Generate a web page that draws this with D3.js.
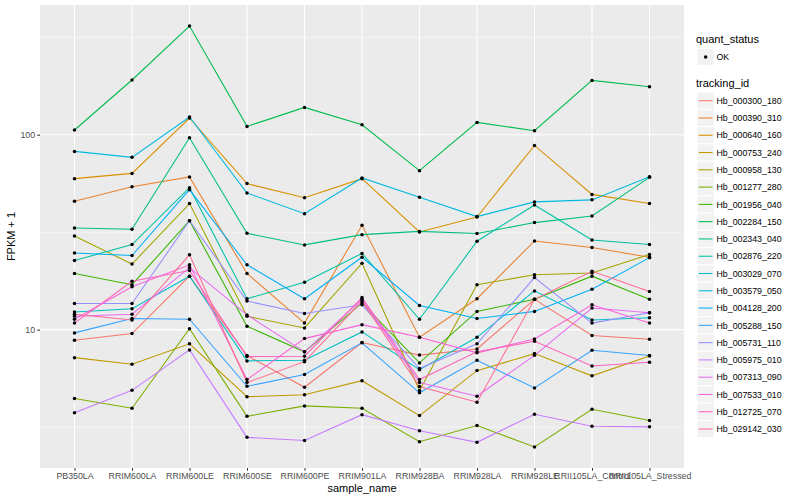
<!DOCTYPE html>
<html><head><meta charset="utf-8">
<script src="https://cdn.jsdelivr.net/npm/d3@7"></script>
<style>
body{margin:0;background:#fff}
text{font-family:"Liberation Sans",Arial,Helvetica,sans-serif}
</style>
</head><body>
<svg id="chart" width="800" height="500"></svg>
<script>
// ---- data ----
const samples = ["PB350LA","RRIM600LA","RRIM600LE","RRIM600SE","RRIM600PE","RRIM901LA","RRIM928BA","RRIM928LA","RRIM928LE","RRII105LA_Control","RRII105LA_Stressed"];
const trackingIds = ["Hb_000300_180","Hb_000390_310","Hb_000640_160","Hb_000753_240","Hb_000958_130","Hb_001277_280","Hb_001956_040","Hb_002284_150","Hb_002343_040","Hb_002876_220","Hb_003029_070","Hb_003579_050","Hb_004128_200","Hb_005288_150","Hb_005731_110","Hb_005975_010","Hb_007313_090","Hb_007533_010","Hb_012725_070","Hb_029142_030"];
const quantStatus = ["OK"];
const yMajorTicks = [10, 100];
const yMinorTicks = [3.162, 31.62, 316.2];

// FPKM + 1 per sample, one array per tracking_id
const Hb_000300_180 = [8.81, 9.54, 18.8, 7.36, 5.06, 8.58, 7.40, 7.96, 14.3, 9.32, 8.92];
const Hb_000390_310 = [45.5, 54.1, 60.7, 19.4, 10.8, 34.3, 9.13, 14.4, 28.5, 26.4, 23.5];
const Hb_000640_160 = [59.5, 63.3, 121.8, 56.1, 47.5, 59.5, 31.7, 37.8, 88.1, 49.4, 44.4];
const Hb_000753_240 = [7.18, 6.64, 8.45, 4.53, 4.63, 5.47, 3.62, 6.16, 7.53, 5.79, 7.33];
const Hb_000958_130 = [30.2, 21.7, 44.3, 11.7, 10.2, 21.9, 4.87, 17.0, 19.1, 19.5, 24.3];
const Hb_001277_280 = [4.43, 3.95, 10.1, 3.59, 4.06, 3.95, 2.66, 3.22, 2.50, 3.90, 3.42];
const Hb_001956_040 = [19.4, 17.0, 36.2, 10.4, 7.69, 13.7, 6.75, 12.4, 14.3, 18.8, 14.3];
const Hb_002284_150 = [105.7, 190.8, 360.9, 110.3, 138.0, 112.5, 65.4, 115.6, 104.8, 189.9, 176.3];
const Hb_002343_040 = [33.2, 32.7, 96.5, 31.2, 27.2, 30.7, 31.9, 31.1, 35.4, 38.3, 60.4];
const Hb_002876_220 = [22.6, 27.3, 53.5, 14.4, 17.5, 24.6, 11.3, 28.4, 43.6, 28.8, 27.3];
const Hb_003029_070 = [12.3, 12.8, 18.8, 6.91, 6.96, 9.73, 6.23, 9.13, 15.8, 11.2, 11.5];
const Hb_003579_050 = [82.1, 76.5, 123.3, 50.2, 39.3, 60.0, 47.7, 38.0, 45.2, 46.3, 60.9];
const Hb_004128_200 = [24.7, 24.0, 52.2, 21.5, 14.4, 23.5, 13.3, 11.4, 12.4, 16.1, 23.4];
const Hb_005288_150 = [9.62, 11.4, 11.3, 5.12, 5.88, 8.55, 4.74, 6.96, 5.02, 7.83, 7.36];
const Hb_005731_110 = [13.6, 13.6, 36.2, 14.0, 12.1, 13.4, 6.31, 8.45, 18.5, 10.8, 12.2];
const Hb_005975_010 = [3.74, 4.88, 7.87, 2.80, 2.70, 3.66, 3.03, 2.64, 3.68, 3.19, 3.17];
const Hb_007313_090 = [11.7, 12.0, 20.8, 11.9, 7.69, 14.3, 5.35, 4.55, 7.38, 12.9, 12.2];
const Hb_007533_010 = [11.3, 16.6, 21.5, 5.54, 8.99, 10.6, 9.13, 7.60, 8.96, 13.4, 10.8];
const Hb_012725_070 = [10.8, 17.7, 20.1, 7.27, 7.30, 14.6, 5.54, 7.69, 8.71, 6.51, 6.80];
const Hb_029142_030 = [12.0, 11.2, 24.2, 5.35, 6.85, 14.0, 5.10, 4.24, 14.3, 19.9, 15.7];

const seriesValues = [Hb_000300_180,Hb_000390_310,Hb_000640_160,Hb_000753_240,Hb_000958_130,Hb_001277_280,Hb_001956_040,Hb_002284_150,Hb_002343_040,Hb_002876_220,Hb_003029_070,Hb_003579_050,Hb_004128_200,Hb_005288_150,Hb_005731_110,Hb_005975_010,Hb_007313_090,Hb_007533_010,Hb_012725_070,Hb_029142_030];
const colors = ["#F8766D","#EA8331","#D89000","#C09B00","#A3A500","#7CAE00","#39B600","#00BB4E","#00BF7D","#00C1A3","#00BFC4","#00BAE0","#00B0F6","#35A2FF","#9590FF","#C77CFF","#E76BF3","#FA62DB","#FF62BC","#FF6C91"];

const series = trackingIds.map((id,i)=>({id, color:colors[i], values:seriesValues[i].map((v,j)=>({sample:samples[j], v}))}));

// ---- layout ----
const svg = d3.select("#chart");
const P = {left:40, right:684, top:5, bottom:468};

const x = d3.scalePoint().domain(samples).range([P.left, P.right]).padding(0.6);
const all = seriesValues.flat();
const lo = Math.log10(d3.min(all)), hi = Math.log10(d3.max(all));
const ex = (hi-lo)*0.05;
const y = d3.scaleLog().domain([Math.pow(10,lo-ex), Math.pow(10,hi+ex)]).range([P.bottom, P.top]);

svg.append("rect").attr("width",800).attr("height",500).attr("fill","#fff");
svg.append("rect").attr("x",P.left).attr("y",P.top).attr("width",P.right-P.left).attr("height",P.bottom-P.top).attr("fill","#EBEBEB");

// grid
const g = svg.append("g");
g.selectAll(".ymin").data(yMinorTicks).join("line")
  .attr("x1",P.left).attr("x2",P.right).attr("y1",d=>y(d)).attr("y2",d=>y(d))
  .attr("stroke","#fff").attr("stroke-width",0.53);
g.selectAll(".ymaj").data(yMajorTicks).join("line")
  .attr("x1",P.left).attr("x2",P.right).attr("y1",d=>y(d)).attr("y2",d=>y(d))
  .attr("stroke","#fff").attr("stroke-width",1.07);
g.selectAll(".xmaj").data(samples).join("line")
  .attr("y1",P.top).attr("y2",P.bottom).attr("x1",d=>x(d)).attr("x2",d=>x(d))
  .attr("stroke","#fff").attr("stroke-width",1.07);

// lines
const line = d3.line().x(d=>x(d.sample)).y(d=>y(d.v));
svg.append("g").selectAll("path").data(series).join("path")
  .attr("d",d=>line(d.values)).attr("fill","none")
  .attr("stroke",d=>d.color).attr("stroke-width",1.07);

// points
svg.append("g").selectAll("g").data(series).join("g")
  .selectAll("circle").data(d=>d.values).join("circle")
  .attr("cx",d=>x(d.sample)).attr("cy",d=>y(d.v)).attr("r",1.75).attr("fill","#000");

// axes
const ax = svg.append("g").attr("transform",`translate(${P.left},0)`)
  .call(d3.axisLeft(y).tickValues(yMajorTicks).tickFormat(d3.format("d")).tickSize(2.74).tickPadding(2.2));
const bx = svg.append("g").attr("transform",`translate(0,${P.bottom})`)
  .call(d3.axisBottom(x).tickSize(2.74).tickPadding(2.5));
[ax,bx].forEach(a=>{
  a.select(".domain").remove();
  a.selectAll(".tick line").attr("stroke","#333333").attr("stroke-width",1.07);
  a.selectAll(".tick text").attr("fill","#4D4D4D").style("font-size","8.8px")
   .style("font-family","'Liberation Sans',Arial,sans-serif");
});

svg.append("text").attr("x",(P.left+P.right)/2).attr("y",492).attr("text-anchor","middle")
  .style("font-size","11px").attr("fill","#000").text("sample_name");
svg.append("text").attr("transform",`translate(15,${(P.top+P.bottom)/2}) rotate(-90)`).attr("text-anchor","middle")
  .style("font-size","11px").attr("fill","#000").text("FPKM + 1");

// legend: quant_status
const LX = 696, KX = 697, KS = 17.28, TX = 716.5;
svg.append("text").attr("x",LX).attr("y",43).style("font-size","11px").text("quant_status");
const ql = svg.append("g");
ql.selectAll("rect").data(quantStatus).join("rect")
  .attr("x",KX).attr("y",(d,i)=>57-KS/2+i*KS).attr("width",KS).attr("height",KS)
  .attr("fill","#F2F2F2").attr("stroke","#fff").attr("stroke-width",1);
ql.selectAll("circle").data(quantStatus).join("circle")
  .attr("cx",KX+KS/2).attr("cy",(d,i)=>57+i*KS).attr("r",1.75).attr("fill","#000");
ql.selectAll("text").data(quantStatus).join("text")
  .attr("x",TX).attr("y",(d,i)=>57+i*KS+3.2).style("font-size","8.8px").text(d=>d);

// legend: tracking_id
svg.append("text").attr("x",LX).attr("y",87).style("font-size","11px").text("tracking_id");
const tl = svg.append("g").selectAll("g").data(series).join("g")
  .attr("transform",(d,i)=>`translate(0,${100.7+i*KS})`);
tl.append("rect").attr("x",KX).attr("y",-KS/2).attr("width",KS).attr("height",KS)
  .attr("fill","#F2F2F2").attr("stroke","#fff").attr("stroke-width",1);
tl.append("line").attr("x1",KX+1.7).attr("x2",KX+KS-1.7).attr("y1",0).attr("y2",0)
  .attr("stroke",d=>d.color).attr("stroke-width",1.07);
tl.append("text").attr("x",TX).attr("y",3.2).style("font-size","8.8px").text(d=>d.id);
</script>
</body></html>
